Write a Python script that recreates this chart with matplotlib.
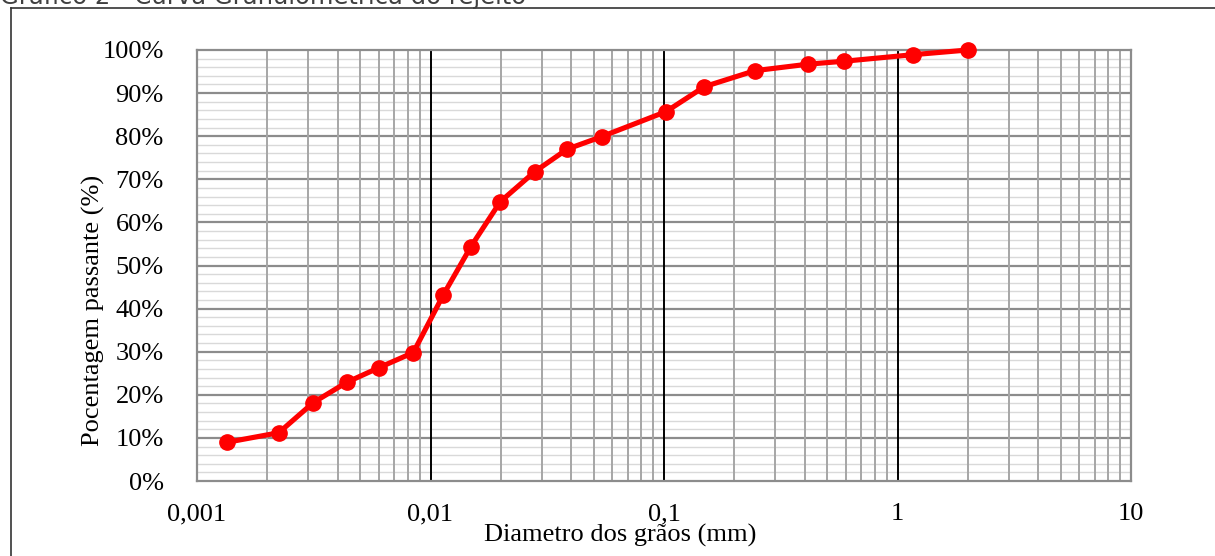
"""Curva granulométrica do rejeito (percentagem passante vs diâmetro)."""

import numpy as np
import matplotlib.pyplot as plt
from matplotlib.lines import Line2D
from matplotlib.ticker import FixedLocator, FixedFormatter, MultipleLocator, PercentFormatter

# diâmetro dos grãos (mm) e percentagem passante (%)
diametro = [0.00135, 0.00224, 0.00315, 0.00438, 0.00602, 0.00844, 0.01135,
            0.0149, 0.0199, 0.028, 0.0385, 0.0541, 0.102, 0.149, 0.245,
            0.412, 0.592, 1.16, 2.0]
passante = [9.0, 11.2, 18.2, 22.9, 26.3, 29.8, 43.2, 54.4, 64.8, 71.8, 77.0,
            79.9, 85.7, 91.5, 95.2, 96.7, 97.4, 98.9, 100.0]

x_ticks = [0.001, 0.01, 0.1, 1, 10]
x_tick_labels = ["0,001", "0,01", "0,1", "1", "10"]

W, H = 1215, 556
plt.rcParams["font.family"] = ["Liberation Serif", "DejaVu Serif"]

fig = plt.figure(figsize=(W / 100, H / 100), dpi=100)
ax = fig.add_axes([197 / W, 1 - 481 / H, (1131 - 197) / W, (481 - 50) / H])

ax.set_xscale("log")
ax.set_xlim(0.001, 10)
ax.set_ylim(0, 100)

# grelha: linhas menores claras, décadas a preto
minor_x = [m * 10.0 ** e for e in range(-3, 1) for m in range(2, 10)]
ax.xaxis.set_major_locator(FixedLocator(x_ticks))
ax.xaxis.set_major_formatter(FixedFormatter(x_tick_labels))
ax.xaxis.set_minor_locator(FixedLocator(minor_x))
ax.yaxis.set_major_locator(MultipleLocator(10))
ax.yaxis.set_minor_locator(MultipleLocator(2))
ax.yaxis.set_major_formatter(PercentFormatter(decimals=0))

for y in np.arange(2, 100, 2):
    if y % 10:
        ax.axhline(y, color="#d9d9d9", lw=1.0, zorder=0)
for y in range(10, 100, 10):
    ax.axhline(y, color="#8c8c8c", lw=1.6, zorder=1)
for xv in minor_x:
    ax.axvline(xv, color="#a6a6a6", lw=1.4, zorder=1)
for xv in x_ticks[1:-1]:
    ax.axvline(xv, color="black", lw=1.4, zorder=2)

for s in ax.spines.values():
    s.set_color("#8c8c8c")
    s.set_linewidth(1.6)

ax.tick_params(which="both", length=0)
ax.tick_params(axis="x", pad=16, labelsize=19)
ax.tick_params(axis="y", pad=24, labelsize=19)

ax.plot(diametro, passante, color="#ff0000", lw=3.7, marker="o",
        markersize=11, zorder=5, clip_on=False)

fig.text(620 / W, 1 - 535 / H, "Diametro dos grãos (mm)", ha="center",
         va="center", fontsize=19)
fig.text(93 / W, 1 - 310 / H, "Pocentagem passante (%)", ha="center",
         va="center", rotation=90, fontsize=19)

# título de cima (cortado na margem)
fig.text(0 / W, 1 - 4 / H, "Gráfico 2 - Curva Granulométrica do rejeito",
         ha="left", va="baseline", fontsize=17.5, color="#404040",
         family="DejaVu Sans")

# moldura à volta do gráfico
fig.add_artist(Line2D([11 / W, 11 / W], [0, 1 - 8 / H], color="#333333", lw=1.2))
fig.add_artist(Line2D([11 / W, 1], [1 - 8 / H, 1 - 8 / H], color="#333333", lw=1.2))

fig.savefig("out.png", dpi=100)
